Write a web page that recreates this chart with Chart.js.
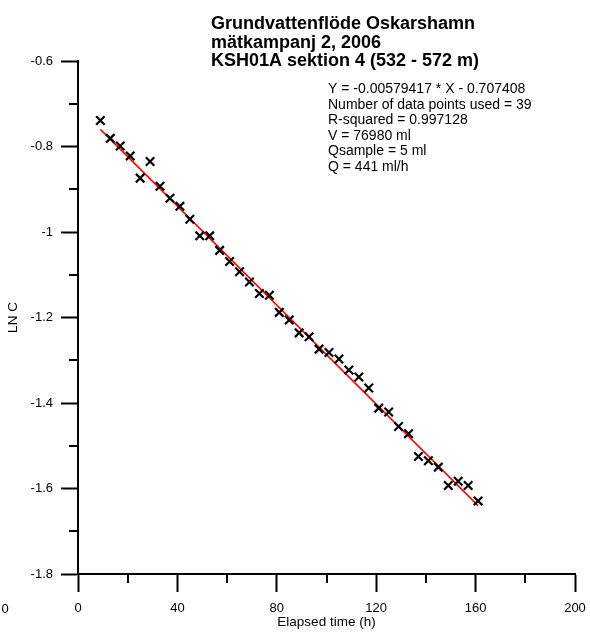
<!DOCTYPE html>
<html>
<head>
<meta charset="utf-8">
<script src="https://cdn.jsdelivr.net/npm/chart.js@4"></script>
<style>
  html, body { margin: 0; padding: 0; background: #fff; }
  #box { width: 590px; height: 632px; }
</style>
</head>
<body>
<div id="box"><canvas id="chart" width="590" height="632"></canvas></div>
<script>
// elapsed time (h) of each sample
const hours = [9, 13, 17, 21, 25, 29, 33, 37, 41, 45, 49, 53, 57, 61, 65, 69, 73, 77, 81, 85,
    89, 93, 97, 101, 105, 109, 113, 117, 121, 125, 129, 133, 137, 141, 145, 149, 153, 157, 161]
// LN C
const lnC = [-0.739, -0.781, -0.799, -0.822, -0.874, -0.835, -0.893, -0.921, -0.940, -0.970,
    -1.009, -1.009, -1.043, -1.069, -1.093, -1.117, -1.144, -1.148, -1.188, -1.206,
    -1.236, -1.245, -1.274, -1.282, -1.297, -1.323, -1.339, -1.365, -1.412, -1.421,
    -1.455, -1.472, -1.525, -1.535, -1.550, -1.593, -1.583, -1.593, -1.629]
// fitted line end points
const fitHours = [9, 161]
const fitLnC = [-0.760, -1.640]

const xTicks = [0, 40, 80, 120, 160, 200]
const yTicks = [-1.8, -1.6, -1.4, -1.2, -1, -0.8, -0.6]
const xMinor = [20, 60, 100, 140, 180]
const yMinor = [-1.7, -1.5, -1.3, -1.1, -0.9, -0.7]

const titleLines = ["Grundvattenflöde Oskarshamn", "mätkampanj 2, 2006", "KSH01A sektion 4 (532 - 572 m)"]
const infoLines = ["Y = -0.00579417 * X - 0.707408", "Number of data points used = 39",
    "R-squared = 0.997128", "V = 76980 ml", "Qsample = 5 ml", "Q = 441 ml/h"]

const FONT = "Arial, 'Liberation Sans', sans-serif"

const textPlugin = {
    id: "texts",
    afterDraw(chart) {
        const ctx = chart.ctx
        const xs = chart.scales.x
        const ys = chart.scales.y
        ctx.save()
        // minor ticks
        ctx.strokeStyle = "#000"
        ctx.lineWidth = 2
        ctx.beginPath()
        xMinor.forEach(v => {
            const px = Math.round(xs.getPixelForValue(v))
            ctx.moveTo(px, ys.bottom)
            ctx.lineTo(px, ys.bottom + 9)
        })
        yMinor.forEach(v => {
            const py = Math.round(ys.getPixelForValue(v))
            ctx.moveTo(xs.left - 9, py)
            ctx.lineTo(xs.left, py)
        })
        ctx.stroke()

        ctx.fillStyle = "#000"
        ctx.textAlign = "left"
        ctx.textBaseline = "alphabetic"
        ctx.font = "bold 18px " + FONT
        titleLines.forEach((t, i) => ctx.fillText(t, 211, 29 + i * 18.5))
        ctx.font = "14px " + FONT
        infoLines.forEach((t, i) => ctx.fillText(t, 328, 93 + i * 15.6))

        // clipped label at the far left of the x axis
        ctx.font = "13px " + FONT
        ctx.textAlign = "center"
        ctx.textBaseline = "middle"
        ctx.fillText("0", 5, 609)
        ctx.restore()
    }
}

new Chart(document.getElementById("chart"), {
    type: "scatter",
    data: {
        datasets: [
            {
                type: "line",
                data: fitHours.map((h, i) => ({ x: h, y: fitLnC[i] })),
                borderColor: "#ff0000",
                borderWidth: 1.5,
                pointRadius: 0,
                fill: false,
                order: 2
            },
            {
                data: hours.map((h, i) => ({ x: h, y: lnC[i] })),
                pointStyle: "crossRot",
                pointRadius: 6,
                borderColor: "#000",
                backgroundColor: "#000",
                pointBorderWidth: 2.2,
                order: 1
            }
        ]
    },
    options: {
        responsive: false,
        animation: false,
        layout: { autoPadding: false, padding: { top: 61, right: 15, left: 0, bottom: 0 } },
        plugins: { legend: { display: false }, tooltip: { enabled: false } },
        scales: {
            x: {
                type: "linear",
                min: 0,
                max: 200,
                afterBuildTicks: s => { s.ticks = xTicks.map(v => ({ value: v })) },
                afterFit: s => { s.height = 58; s.paddingLeft = 0; s.paddingRight = 0 },
                ticks: { color: "#000", font: { family: FONT, size: 13 }, padding: 9, maxRotation: 0 },
                grid: { drawOnChartArea: false, tickLength: 18, tickWidth: 2, tickColor: "#000" },
                border: { color: "#000", width: 2 },
                title: { display: true, text: "Elapsed time (h)", color: "#000",
                    font: { family: FONT, size: 13.5 }, padding: { top: 0, bottom: 2 } }
            },
            y: {
                min: -1.8,
                max: -0.6,
                afterBuildTicks: s => { s.ticks = yTicks.map(v => ({ value: v })) },
                afterFit: s => { s.width = 78; s.paddingTop = 0; s.paddingBottom = 0 },
                ticks: { color: "#000", font: { family: FONT, size: 13 }, padding: 8,
                    callback: v => String(Math.round(v * 10) / 10) },
                grid: { drawOnChartArea: false, tickLength: 17, tickWidth: 2, tickColor: "#000" },
                border: { color: "#000", width: 2 },
                title: { display: true, text: "LN C", color: "#000",
                    font: { family: FONT, size: 13.5 }, padding: { top: 5, bottom: 0 } }
            }
        }
    },
    plugins: [textPlugin]
})
</script>
</body>
</html>
